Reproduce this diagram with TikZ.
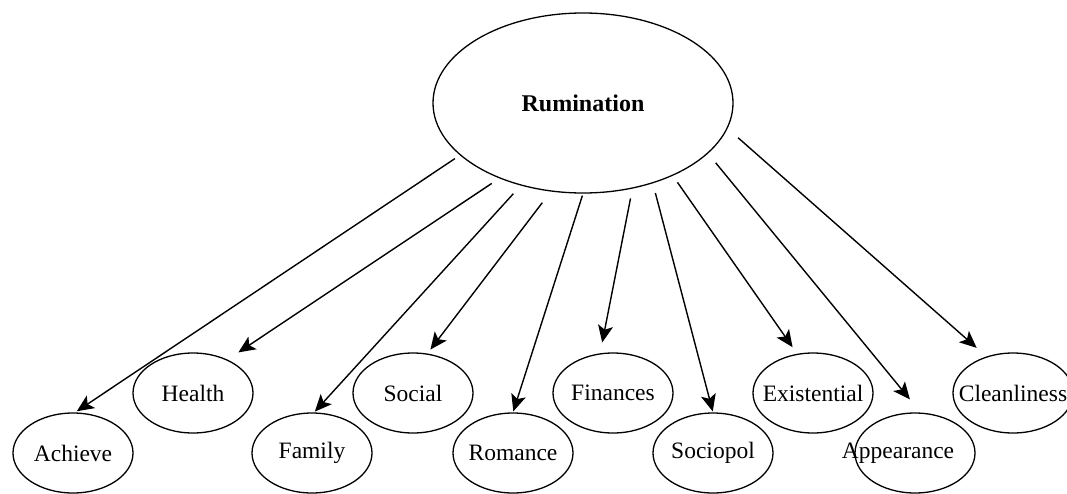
\documentclass[tikz,border=0pt]{standalone}
\usepackage{fontspec}
\setmainfont{Liberation Serif}
\usepackage{tikz}
\usetikzlibrary{arrows.meta,shapes.geometric}

\tikzset{
  topic/.style={draw, ellipse, line width=1.3pt, inner sep=0pt, minimum width=300pt, minimum height=180pt, font=\fontsize{24}{28}\selectfont\bfseries},
  leaf/.style={draw, ellipse, line width=1.3pt, inner sep=0pt, minimum width=120pt, minimum height=80pt, font=\fontsize{23.5}{27}\selectfont},
  link/.style={-{Stealth[length=17pt,width=15pt,inset=4pt]}, line width=1.4pt}
}
\newcommand{\lbl}[1]{\makebox[0pt]{#1}}

\begin{document}
\begin{tikzpicture}[x=1pt,y=-1pt]
  \useasboundingbox (0,0) rectangle (1067,493);
  \node[topic] (rum) at (583,103) {\lbl{Rumination}};
  \node[leaf] (ach) at (73,453) {\lbl{Achieve}};
  \node[leaf] (hea) at (193,393) {\lbl{Health}};
  \node[leaf] (fam) at (312,453) {\lbl{Family}};
  \node[leaf] (soc) at (413,393) {\lbl{Social}};
  \node[leaf] (rom) at (513,453) {\lbl{Romance}};
  \node[leaf] (fin) at (613,393) {\lbl{Finances}};
  \node[leaf] (sop) at (713,453) {\lbl{Sociopol}};
  \node[leaf] (exi) at (813,393) {\lbl{Existential}};
  \node[leaf] (app) at (915,453) {\lbl{Appearance\hspace{34pt}}};
  \node[leaf] (cle) at (1013,393) {\lbl{Cleanliness}};
  \foreach \leaf/\sa/\sl/\ea/\el in {ach/203/6/87/2, hea/222/9/44/13, fam/233/11/87/1,
      soc/250/14/70/5, rom/270/2/90/1, fin/300/10/108/11, sop/311/10/90/1,
      exi/321/8/112/8, app/338/12/82/17, cle/350/14/126/13}
    \draw[link, shorten <=\sl pt, shorten >=\el pt] (rum.\sa) -- (\leaf.\ea);
\end{tikzpicture}
\end{document}
